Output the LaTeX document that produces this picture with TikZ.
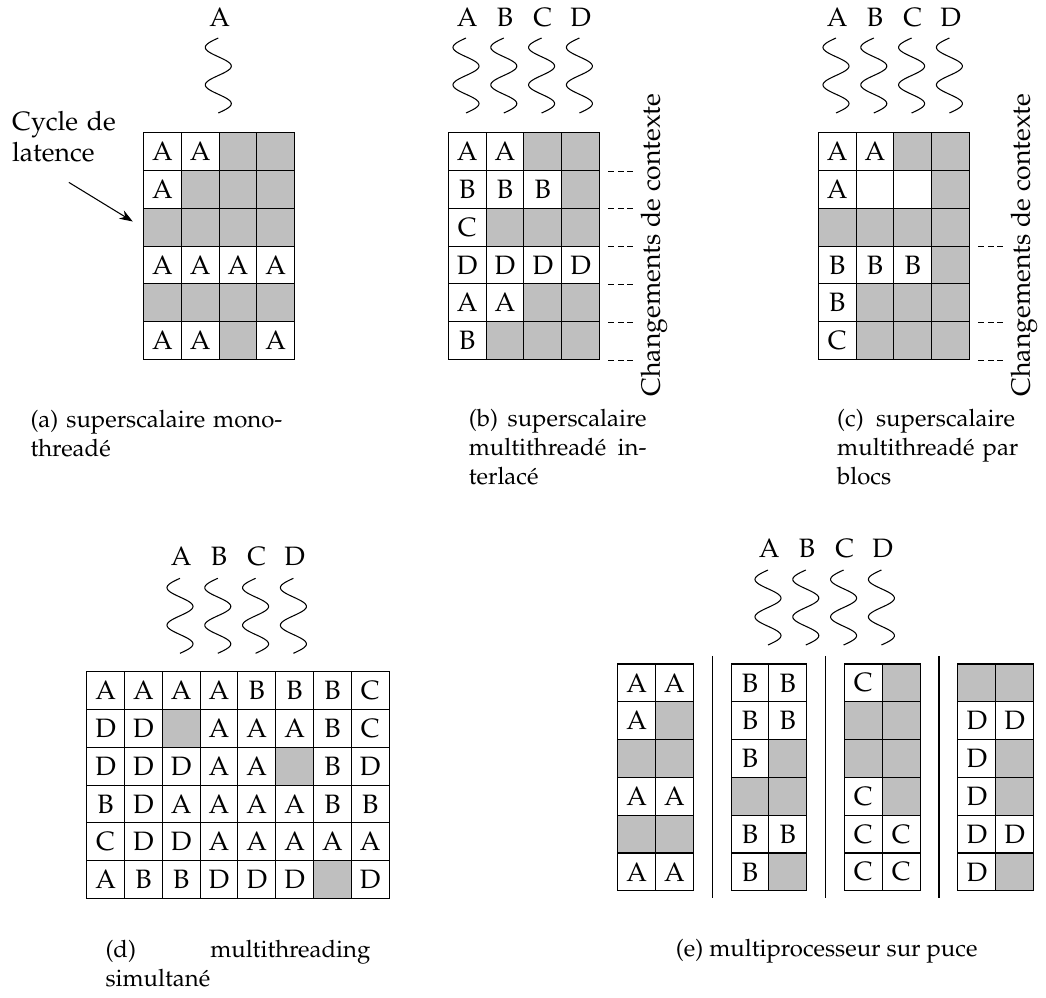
\documentclass[tikz,border=0pt]{standalone}
\usepackage[T1]{fontenc}
\usepackage{mathpazo}
\usepackage{tikz}
\usetikzlibrary{arrows.meta, positioning, calc}

\definecolor{bulle}{gray}{0.75}

% grille de cases : nom, centre de la premiere case (x, y), lignes
\newcommand{\grille}[4]{%
  \foreach \lig [count=\nl] in {#4} {
    \foreach \cel [count=\nc] in \lig {
      \if\cel x
        \node[vide] (#1-\nl-\nc) at ({#2+(\nc-1)*37.8}, {#3+(\nl-1)*37.8}) {};
      \else\if\cel o
        \node[case] (#1-\nl-\nc) at ({#2+(\nc-1)*37.8}, {#3+(\nl-1)*37.8}) {};
      \else
        \node[case] (#1-\nl-\nc) at ({#2+(\nc-1)*37.8}, {#3+(\nl-1)*37.8}) {\cel};
      \fi\fi
    }
  }%
}

\begin{document}
\begin{tikzpicture}[
    x=0.3764pt, y=-0.3764pt,
    case/.style={draw, fill=white, minimum size=0.5cm, inner sep=0pt},
    vide/.style={case, fill=bulle},
    etiq/.style={anchor=base, inner sep=0pt},
    legende/.style={anchor=base west, inner sep=0pt, font=\small},
    chgt/.style={dash pattern=on 2.2pt off 1.4pt},
    fleche/.style={-{Stealth[length=5pt, width=3.6pt]}},
    ondulation/.pic={\draw plot[domain=0:720, samples=81, smooth] ({-13*sin(\x)}, {\x/9.6});}
]
\useasboundingbox (0,0) rectangle (1046,998);

% (a) superscalaire monothreade
\grille{a}{162.4}{151.6}{{A,A,x,x},{A,x,x,x},{x,x,x,x},{A,A,A,A},{x,x,x,x},{A,A,x,A}}
\node[etiq] (a-A) at (219.6,26.7) {A};
\pic at (218.3,38) {ondulation};
\node[anchor=base west, inner sep=0pt, text width=40pt, align=left] (a-cycle) at (11.7,130) {Cycle de\\latence};
\draw[fleche] ([shift={(3.5,19.4)}]a-cycle.south) -- ([shift={(-10.2,-5.7)}]a-3-1.west);
\node[legende, text width=92.9pt] (a-leg) at (30,427)
    {\makebox[92.9pt][s]{(a) \hfill superscalaire \hfill mono-}\\thread\'e};

% (b) entrelace
\grille{b}{467.2}{151.6}{{A,A,x,x},{B,B,B,x},{C,x,x,x},{D,D,D,D},{A,A,x,x},{B,x,x,x}}
\foreach \f [count=\k from 0] in {A,B,C,D} {
    \node[etiq] (b-\f) at ({467.2+\k*37.8},26.7) {\f};
    \pic at ({466+\k*37.8},38) {ondulation};
}
\foreach \nl in {1,...,6}
    \draw[chgt] ([xshift=3.1pt]b-\nl-4.south east) -- ++(25,0);
\node[rotate=90] (b-chgt) at (654,245) {Changements de contexte};
\node[legende, text width=66.9pt] (b-leg) at (468.3,426)
    {\makebox[66.9pt][s]{(b) \hfill superscalaire}\\\makebox[66.9pt][s]{multithread\'e \hfill in-}\\terlac\'e};

% (c) par blocs
\grille{c}{837.2}{151.6}{{A,A,x,x},{A,o,o,x},{x,x,x,x},{B,B,B,x},{B,x,x,x},{C,x,x,x}}
\foreach \f [count=\k from 0] in {A,B,C,D} {
    \node[etiq] (c-\f) at ({837.2+\k*37.8},26.7) {\f};
    \pic at ({836+\k*37.8},38) {ondulation};
}
\foreach \nl in {3,5,6}
    \draw[chgt] ([xshift=3.1pt]c-\nl-4.south east) -- ++(25,0);
\node[rotate=90] (c-chgt) at (1024,245) {Changements de contexte};
\node[legende, text width=66.9pt] (c-leg) at (836.7,426)
    {\makebox[66.9pt][s]{(c) \hfill superscalaire}\\\makebox[66.9pt][s]{multithread\'e \hfill par}\\blocs};

% (d) simultane
\grille{d}{105.6}{690.6}{{A,A,A,A,B,B,B,C},{D,D,x,A,A,A,B,C},{D,D,D,A,A,x,B,D},{B,D,A,A,A,A,B,B},{C,D,D,A,A,A,A,A},{A,B,B,D,D,D,x,D}}
\foreach \f [count=\k from 0] in {A,B,C,D} {
    \node[etiq] (d-\f) at ({181.2+\k*37.8},565) {\f};
    \pic at ({180+\k*37.8},578.3) {ondulation};
}
\node[legende, text width=99.7pt] (d-leg) at (105,957)
    {\makebox[99.7pt][s]{(d) \hfill multithreading}\\simultan\'e};

% (e) multiprocesseur
\grille{e1}{636.6}{682.9}{{A,A},{A,x},{x,x},{A,A},{x,x},{A,A}}
\grille{e2}{750.0}{682.9}{{B,B},{B,B},{B,x},{x,x},{B,B},{B,x}}
\grille{e3}{863.4}{682.9}{{C,x},{x,x},{x,x},{C,x},{C,C},{C,C}}
\grille{e4}{976.8}{682.9}{{x,x},{D,D},{D,x},{D,x},{D,D},{D,x}}
\foreach \g/\h in {e1/e2, e2/e3, e3/e4}
    \draw ($(\g-1-2.north east)!0.5!(\h-1-1.north west)$) ++(0,-7.5) -- ++(0,241.7);
\foreach \f [count=\k from 0] in {A,B,C,D} {
    \node[etiq] (e-\f) at ({769.2+\k*37.8},557.3) {\f};
    \pic at ({768+\k*37.8},570) {ondulation};
}
\node[anchor=base, inner sep=0pt, font=\small] (e-leg) at (826.7,956.5) {(e) multiprocesseur sur puce};

\end{tikzpicture}
\end{document}
